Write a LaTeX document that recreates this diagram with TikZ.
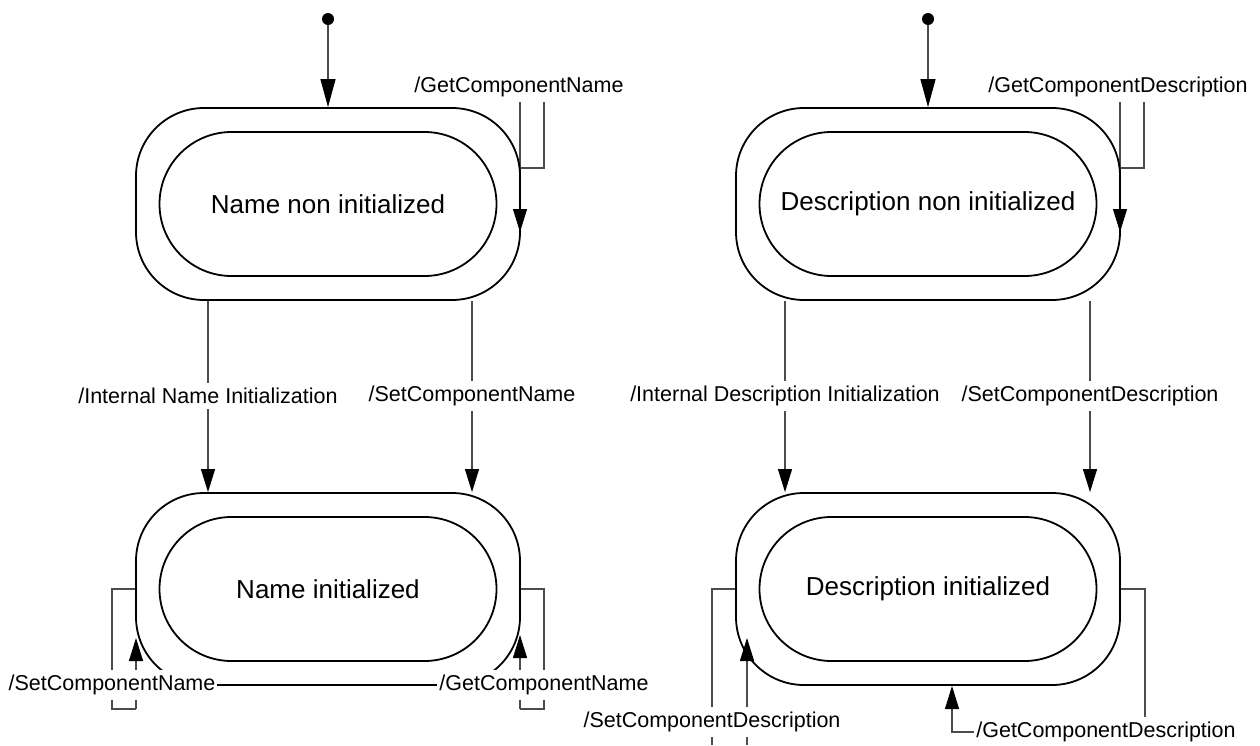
\documentclass[tikz,border=0pt]{standalone}
\usepackage{fontspec}
\setmainfont{Liberation Sans}
\usetikzlibrary{arrows.meta,backgrounds}
\begin{document}
\begin{tikzpicture}[x=1pt,y=-1pt,
  outerbox/.style={draw, line width=1.8pt, rounded corners=68pt, minimum width=384pt, minimum height=192pt, inner sep=0pt},
  innerbox/.style={draw, line width=1.8pt, rounded corners=72pt, minimum width=337pt, minimum height=144pt, inner sep=0pt, font=\fontsize{26}{30}\selectfont},
  lbl/.style={fill=white, inner xsep=2pt, inner ysep=5pt, font=\fontsize{21.5}{24}\selectfont},
  tr/.style={draw=black!70, line width=1.1pt},
  arrowtip/.style={-{Triangle[length=23pt,width=14pt,color=black]}},
  inittip/.style={-{Triangle[length=28pt,width=15pt,color=black]}},
  initdot/.style={circle, fill=black, inner sep=0pt, minimum size=12pt},
]
\useasboundingbox (0,0) rectangle (1260,745);
\coordinate (bot) at (0,745);

% states
\node[outerbox] (n1o) at (328,204) {};
\node[innerbox] (n1i) at (328,204) {Name non initialized};
\node[outerbox] (n2o) at (928,204) {};
\node[innerbox] (n2i) at (928,204) {Description non initialized};
\node[outerbox] (n3o) at (328,589) {};
\node[innerbox] (n3i) at (328,589) {Name initialized};
\node[outerbox] (n4o) at (928,589) {};
\node[innerbox] (n4i) at (928,589) {Description initialized};

% initial states
\node[initdot] (i1) at (328,19) {};
\node[initdot] (i2) at (928,19) {};

% labels
\node[lbl] (tA) at (208,396) {/Internal Name Initialization};
\node[lbl] (tB) at (472,396) {/SetComponentName};
\node[lbl] (tC) at (785,396) {/Internal Description Initialization};
\node[lbl] (tD) at (1090,396) {/SetComponentDescription};
\node[lbl] (g1) at (519,87) {/GetComponentName};
\node[lbl] (g2) at (1118,87) {/GetComponentDescription};
\node[lbl] (s3) at (112,685) {/SetComponentName};
\node[lbl] (g3) at (544,685) {/GetComponentName};
\node[lbl] (s4) at (712,722) {/SetComponentDescription};
\node[lbl] (g4) at (1106,732) {/GetComponentDescription};

\coordinate (g1a) at (520,168);
\coordinate (g1b) at (544,168);
\coordinate (g1c) at (520,232);
\coordinate (g2a) at (1120,168);
\coordinate (g2b) at (1144,168);
\coordinate (g2c) at (1120,232);
\coordinate (s3b) at (136,709);
\coordinate (s3t) at (136,638);
\coordinate (g3b) at (520,709);
\coordinate (g3t) at (520,635);
\coordinate (s4d) at (747,745);
\coordinate (s4t) at (747,638);
\coordinate (g4a) at (1145,589);
\coordinate (g4t) at (952,686);

\begin{scope}[on background layer]
\draw[tr, inittip] (i1) -- (n1o.north);
\draw[tr, inittip] (i2) -- (n2o.north);

\draw[tr, arrowtip] (n1o.south -| tA) -- (n3o.north -| tA);
\draw[tr, arrowtip] (n1o.south -| tB) -- (n3o.north -| tB);
\draw[tr, arrowtip] (n2o.south -| tC) -- (n4o.north -| tC);
\draw[tr, arrowtip] (n2o.south -| tD) -- (n4o.north -| tD);

\draw[tr] (g1a) -- (g1a |- g1.south);
\draw[tr, arrowtip] (g1b |- g1.south) -- (g1b) -- (g1a) -- (g1c);
\draw[tr] (g2a) -- (g2a |- g2.south);
\draw[tr, arrowtip] (g2b |- g2.south) -- (g2b) -- (g2a) -- (g2c);

\draw[tr] (n3o.west) -- (s3.north |- n3o.west) -- (s3.south |- s3b) -- (s3b);
\draw[tr, arrowtip] (s3b) -- (s3t);
\draw[tr] (n3o.east) -- (g3.north |- n3o.east) -- (g3.south |- g3b) -- (g3b);
\draw[tr, arrowtip] (g3b) -- (g3t);
\draw[tr] (s3.east) -- (g3.west);

\draw[tr] (n4o.west) -- (s4.north |- n4o.west) -- (s4.south |- bot);
\draw[tr, arrowtip] (s4d) -- (s4t);

\draw[tr] (n4o.east) -- (g4a) -- (g4a |- g4.north);
\draw[tr, arrowtip] (g4.west) -- (g4.west -| g4t) -- (g4t);
\end{scope}
\end{tikzpicture}
\end{document}
